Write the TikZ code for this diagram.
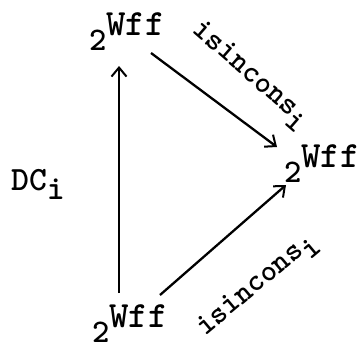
\documentclass[tikz,border=0pt]{standalone}
\usepackage{fontspec}
\usetikzlibrary{arrows.meta}
\newcommand{\tw}[1]{\ttfamily\bfseries\fontsize{#1}{#1}\selectfont}
\tikzset{
  vert/.style={inner sep=0pt, anchor=base west, font=\tw{33}},
  lbl/.style={inner sep=0pt, font=\tw{31}},
  arr/.style={line width=2.3pt, -{Straight Barb[length=9pt,width=15pt,line width=2pt]}}
}
\newcommand{\pw}{2\raisebox{15pt}{\tw{37}Wff}}
\newcommand{\sub}[1]{\raisebox{-9pt}{#1}}
\begin{document}
\begin{tikzpicture}[x=1pt,y=-1pt]
\useasboundingbox (0,0) rectangle (358,345);
\node[vert] (top) at (89,51) {\pw};
\node[vert] (rgt) at (284,182) {\pw};
\node[vert] (bot) at (92,342) {\pw};
\node[vert, font=\tw{34}] (dc) at (11,190) {DC\sub{i}};
\coordinate (vb) at (119,293);
\coordinate (vt) at (119,66);
\coordinate (ts) at (151,53);
\coordinate (te) at (277,147);
\coordinate (bs) at (160,295);
\coordinate (be) at (286,185);
\draw[arr] (vb) -- (vt);
\draw[arr] (ts) -- (te);
\draw[arr] (bs) -- (be);
\node[lbl, rotate=-41] (l1) at (250,76) {isincons\sub{i}};
\node[lbl, rotate=40] (l2) at (258,286) {isincons\sub{i}};
\end{tikzpicture}
\end{document}
